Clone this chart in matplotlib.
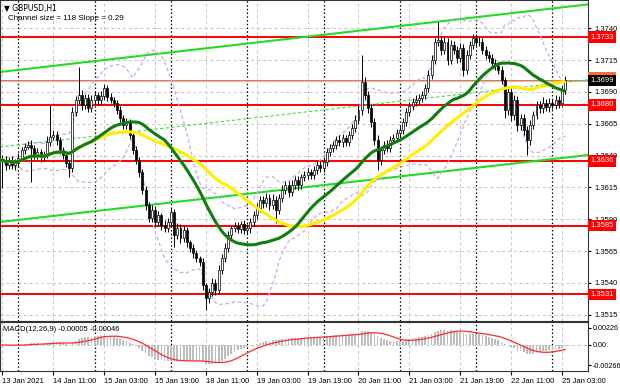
import matplotlib
matplotlib.use("Agg")
import matplotlib.pyplot as plt
import matplotlib.transforms as mtransforms
import numpy as np
import pandas as pd

# ── Data (GBPUSD H1, bar 0 = 13 Jan 18:00) ────────────────────────────────────

close = [
    1.36366, 1.36366, 1.36327, 1.36366, 1.36327, 1.36342, 1.36382, 1.36444, 1.36468, 1.36484,
    1.36460, 1.36405, 1.36428, 1.36389, 1.36405, 1.36507, 1.36546, 1.36562, 1.36523, 1.36444,
    1.36405, 1.36342, 1.36303, 1.36743, 1.36837, 1.36876, 1.36797, 1.36852, 1.36774, 1.36837,
    1.36876, 1.36837, 1.36868, 1.36931, 1.36860, 1.36837, 1.36813, 1.36758, 1.36696, 1.36641,
    1.36664, 1.36562, 1.36444, 1.36366, 1.36271, 1.36130, 1.36012, 1.35910, 1.35973, 1.35878,
    1.35933, 1.35855, 1.35831, 1.35878, 1.35957, 1.35776, 1.35831, 1.35753, 1.35816, 1.35721,
    1.35674, 1.35635, 1.35595, 1.35564, 1.35383, 1.35281, 1.35328, 1.35399, 1.35344, 1.35501,
    1.35595, 1.35674, 1.35776, 1.35831, 1.35847, 1.35823, 1.35863, 1.35816, 1.35831, 1.35878,
    1.35933, 1.35988, 1.36051, 1.36028, 1.36067, 1.36012, 1.36051, 1.35973, 1.36067, 1.36130,
    1.36169, 1.36114, 1.36169, 1.36209, 1.36169, 1.36232, 1.36248, 1.36271, 1.36248, 1.36287,
    1.36327, 1.36303, 1.36350, 1.36428, 1.36460, 1.36484, 1.36523, 1.36507, 1.36539, 1.36507,
    1.36562, 1.36617, 1.36680, 1.36758, 1.36978, 1.36876, 1.36774, 1.36664, 1.36523, 1.36366,
    1.36444, 1.36484, 1.36460, 1.36523, 1.36539, 1.36578, 1.36601, 1.36664, 1.36743, 1.36790,
    1.36821, 1.36837, 1.36852, 1.36876, 1.36931, 1.37033, 1.37151, 1.37292, 1.37308, 1.37229,
    1.37292, 1.37151, 1.37269, 1.37229, 1.37167, 1.37245, 1.37072, 1.37190, 1.37269, 1.37324,
    1.37292, 1.37292, 1.37229, 1.37190, 1.37167, 1.37127, 1.37104, 1.37072, 1.36994, 1.36758,
    1.36900, 1.36719, 1.36837, 1.36641, 1.36696, 1.36601, 1.36523, 1.36641, 1.36719, 1.36797,
    1.36774, 1.36813, 1.36782, 1.36813, 1.36797, 1.36837, 1.36813, 1.36915, 1.36994,
]

# wick length beyond the body, in pips
upper_wick = [
    3, 4, 3, 2, 3, 3, 4, 2, 3, 3,
    4, 2, 3, 2, 3, 5, 25, 4, 3, 2,
    2, 3, 2, 4, 3, 22, 4, 3, 3, 4,
    3, 2, 4, 3, 2, 3, 2, 2, 3, 2,
    3, 2, 2, 3, 2, 2, 3, 2, 4, 3,
    3, 2, 4, 3, 3, 2, 4, 3, 3, 2,
    2, 3, 2, 2, 3, 2, 3, 4, 3, 4,
    3, 4, 3, 2, 3, 3, 2, 3, 3, 3,
    3, 4, 3, 3, 4, 3, 5, 3, 3, 4,
    3, 3, 4, 3, 3, 2, 3, 3, 2, 3,
    3, 3, 4, 3, 3, 3, 3, 4, 3, 2,
    3, 3, 4, 4, 21, 4, 3, 3, 3, 4,
    3, 3, 4, 3, 3, 3, 4, 3, 3, 3,
    3, 4, 3, 3, 3, 4, 4, 3, 14, 3,
    4, 3, 4, 3, 3, 4, 3, 4, 3, 3,
    3, 4, 3, 3, 3, 3, 3, 3, 3, 2,
    4, 3, 4, 3, 3, 3, 3, 4, 3, 3,
    3, 5, 3, 4, 3, 4, 3, 4, 3,
]
lower_wick = [
    3, 22, 4, 3, 3, 4, 3, 2, 3, 2,
    27, 3, 3, 4, 3, 2, 3, 2, 4, 3,
    3, 3, 7, 3, 3, 3, 4, 3, 3, 3,
    3, 4, 3, 3, 3, 2, 3, 3, 3, 3,
    3, 3, 3, 3, 4, 3, 4, 3, 3, 4,
    3, 4, 3, 3, 4, 9, 3, 4, 3, 4,
    3, 4, 3, 3, 4, 9, 4, 3, 4, 3,
    3, 3, 3, 4, 3, 3, 3, 3, 3, 4,
    3, 3, 3, 4, 3, 4, 3, 10, 3, 3,
    3, 4, 3, 3, 4, 3, 3, 3, 3, 3,
    3, 3, 3, 3, 3, 3, 3, 3, 4, 3,
    3, 3, 3, 3, 4, 4, 4, 4, 4, 8,
    4, 3, 3, 3, 3, 3, 3, 3, 3, 3,
    3, 3, 3, 3, 3, 3, 3, 3, 3, 4,
    3, 4, 3, 3, 4, 3, 5, 3, 3, 3,
    3, 3, 3, 3, 3, 3, 3, 3, 3, 6,
    4, 5, 4, 5, 4, 4, 12, 4, 3, 3,
    4, 4, 3, 4, 3, 3, 4, 3, 3,
]

levels = [1.3733, 1.3680, 1.3636, 1.3585, 1.3531]
last_price = 1.3699

# price channel, (bar, price) at both ends
channel_upper = [(0, 1.37056), (178, 1.37567)]
channel_lower = [(0, 1.35878), (178, 1.36384)]

price_ticks = [1.3515, 1.3540, 1.3565, 1.3590, 1.3615, 1.3640, 1.3665, 1.3690, 1.3715, 1.3740]
macd_ticks = [-0.00266, 0.0, 0.00226]
macd_tick_labels = ["-0.00266", "0.00", "0.00226"]

time_labels = ["13 Jan 2021", "14 Jan 11:00", "15 Jan 03:00", "15 Jan 19:00", "18 Jan 11:00",
               "19 Jan 03:00", "19 Jan 19:00", "20 Jan 11:00", "21 Jan 03:00", "21 Jan 19:00",
               "22 Jan 11:00", "25 Jan 03:00"]
time_label_bars = [1, 17, 33, 49, 65, 81, 97, 113, 129, 145, 161, 177]
day_start_bars = [6, 30, 54, 78, 102, 126, 150, 174]

assert len(close) == len(upper_wick) == len(lower_wick)

# ── Indicators ────────────────────────────────────────────────────────────────

s = pd.Series(close)
opens = np.array([close[0]] + close[:-1])
closes = np.array(close)
pip = 0.0001
highs = np.maximum(opens, closes) + np.array(upper_wick) * pip
lows = np.minimum(opens, closes) - np.array(lower_wick) * pip

ma30 = s.rolling(30, min_periods=1).mean()
ma50 = s.rolling(50, min_periods=1).mean()
bb_mid = s.rolling(20, min_periods=1).mean()
bb_std = s.rolling(20, min_periods=2).std(ddof=0).bfill()
bb_up = bb_mid + 2 * bb_std
bb_dn = bb_mid - 2 * bb_std

macd = s.ewm(span=12, adjust=False).mean() - s.ewm(span=26, adjust=False).mean()
signal = macd.rolling(9, min_periods=1).mean()

# ── Figure ────────────────────────────────────────────────────────────────────

plt.rcParams["font.family"] = ["Liberation Sans", "DejaVu Sans"]
FS = 5.5
W, H = 620, 388
fig = plt.figure(figsize=(W / 100, H / 100), dpi=100)
fig.patch.set_facecolor("white")

plot_w = 588 / W
ax = fig.add_axes([0.0, 1 - 321 / H, plot_w, 321 / H])
ax2 = fig.add_axes([0.0, 1 - 371 / H, plot_w, 49 / H])

x = np.arange(len(close))
XLIM = (0.22, 185.2)
GRID = "#c4c4c4"

for a in (ax, ax2):
    a.set_xlim(*XLIM)
    for b in time_label_bars:
        a.axvline(b, color=GRID, lw=0.7, ls=(0, (3, 3)), zorder=0.5)
    for b in day_start_bars:
        a.axvline(b, color="black", lw=0.9, ls=(0, (1.2, 1.8)), zorder=0.6)
    for sp in a.spines.values():
        sp.set_color("#333333")
        sp.set_linewidth(0.8)

# main panel
ax.set_ylim(1.35101, 1.37622)
for p in price_ticks:
    ax.axhline(p, color=GRID, lw=0.7, ls=(0, (3, 3)), zorder=0.5)

for lv in levels:
    ax.axhline(lv, color="#ff0000", lw=1.4, zorder=2)
ax.axhline(last_price + 0.00002, color="#ff6a3a", lw=0.7, zorder=2)
ax.axhline(last_price - 0.00002, color="#b8b8b8", lw=0.6, zorder=2)

ax.axline(*channel_upper, color="#22dd22", lw=1.5, zorder=2)
ax.axline(*channel_lower, color="#22dd22", lw=1.5, zorder=2)
mid_a = (channel_upper[0][0], (channel_upper[0][1] + channel_lower[0][1]) / 2)
mid_b = (channel_upper[1][0], (channel_upper[1][1] + channel_lower[1][1]) / 2)
ax.axline(mid_a, mid_b, color="#44dd44", lw=0.8, ls=(0, (3, 2)), zorder=2)

ax.plot(x, bb_up, color="#cfa6ec", lw=0.9, ls=(0, (3, 2)), zorder=2.5)
ax.plot(x, bb_dn, color="#cfa6ec", lw=0.9, ls=(0, (3, 2)), zorder=2.5)

bull = closes >= opens
ax.vlines(x, lows, highs, color="black", lw=0.7, zorder=3)
body_lo = np.minimum(opens, closes)
body_h = np.maximum(np.abs(closes - opens), 0.00003)
ax.bar(x[bull], body_h[bull], bottom=body_lo[bull], width=0.62,
       color="white", edgecolor="black", linewidth=0.5, zorder=3.2)
ax.bar(x[~bull], body_h[~bull], bottom=body_lo[~bull], width=0.62,
       color="black", edgecolor="black", linewidth=0.5, zorder=3.2)

ax.plot(x, ma50, color="#ffee00", lw=2.2, zorder=4, solid_capstyle="butt")
ax.plot(x, ma30, color="#0f7d0f", lw=2.2, zorder=4.1, solid_capstyle="butt")

ax.yaxis.tick_right()
ax.set_yticks(price_ticks)
ax.set_yticklabels([f"{p:.4f}" for p in price_ticks])
ax.tick_params(axis="y", labelsize=FS, length=2, pad=2.5, colors="black")
ax.set_xticks([])

tr = mtransforms.blended_transform_factory(ax.transAxes, ax.transData)
box = dict(edgecolor="none", pad=1.7)
ax.text(1.004, last_price + 0.00018, f"{last_price + 0.0001:.4f}", transform=tr,
        ha="left", va="center", fontsize=FS, color="white", zorder=9,
        bbox=dict(box, facecolor="#ff6a3a"))
ax.text(1.004, last_price, f"{last_price:.4f}", transform=tr, ha="left", va="center",
        fontsize=FS, color="white", zorder=10, bbox=dict(box, facecolor="black"))
for lv in levels:
    ax.text(1.004, lv, f"{lv:.4f}", transform=tr, ha="left", va="center",
            fontsize=FS, color="white", zorder=10, bbox=dict(box, facecolor="#ff0000"))

ax.text(4 / 588, 1 - 8 / 321, "\u25bc GBPUSD,H1", transform=ax.transAxes,
        fontsize=FS, va="center", ha="left", zorder=10, family=["DejaVu Sans"])
ax.text(8 / 588, 1 - 19 / 321, "Channel size = 118 Slope = 0.29", transform=ax.transAxes,
        fontsize=FS + 0.3, va="center", ha="left", zorder=10)

# MACD panel
ax2.set_ylim(-0.00344, 0.00304)
ax2.bar(x, macd, width=0.55, color="#bdbdbd", zorder=2)
ax2.plot(x, signal, color="#ff2a2a", lw=0.9, zorder=3)
ax2.axhline(0, color=GRID, lw=0.7, ls=(0, (3, 3)), zorder=0.5)
ax2.yaxis.tick_right()
ax2.set_yticks(macd_ticks)
ax2.set_yticklabels(macd_tick_labels)
ax2.tick_params(axis="y", labelsize=5.2, length=2, pad=1.5)
ax2.set_xticks(time_label_bars)
ax2.set_xticklabels(time_labels)
for lab in ax2.get_xticklabels():
    lab.set_horizontalalignment("left")
ax2.tick_params(axis="x", labelsize=FS, length=3, pad=2)
ax2.text(3 / 588, 0.84, "MACD(12,26,9) -0.00005 -0.00046", transform=ax2.transAxes,
         fontsize=FS, va="center", ha="left", zorder=10)

fig.savefig("out.png", dpi=100, facecolor="white")
